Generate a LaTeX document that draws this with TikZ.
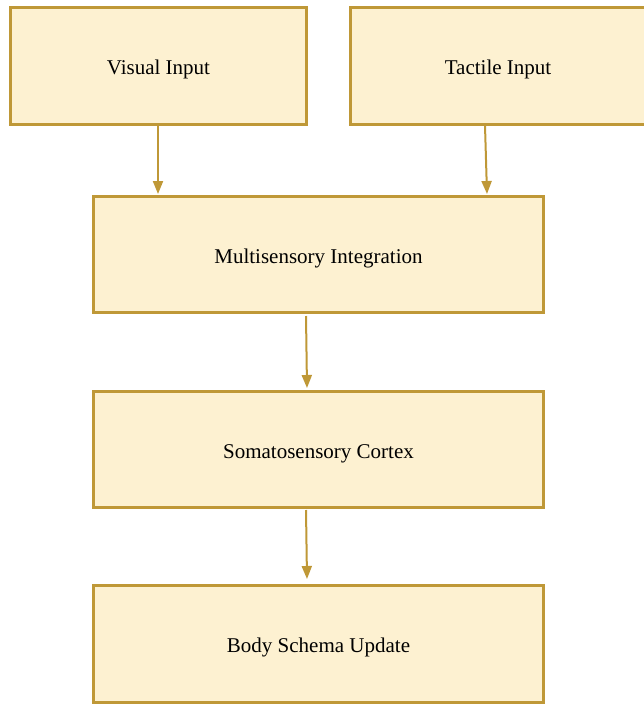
\documentclass[tikz,border=0pt]{standalone}
\usepackage{fontspec}
\setmainfont{Liberation Serif}
\usetikzlibrary{arrows.meta}
\definecolor{boxfill}{HTML}{FDF1D1}
\definecolor{boxline}{HTML}{BF9837}
\tikzset{
  flowbox/.style={draw=boxline, fill=boxfill, line width=3pt, inner sep=0pt,
    font=\fontsize{21}{25}\selectfont, text=black, text height=18pt, text depth=0pt},
  flowarrow/.style={draw=boxline, line width=2pt,
    -{Triangle[length=13pt,width=10pt]}}
}
\begin{document}
\begin{tikzpicture}[x=1pt,y=-1pt]
\useasboundingbox (0,0) rectangle (644,704);
\node[flowbox, minimum width=296pt, minimum height=116.5pt] (vis) at (158.5,65.75) {Visual Input};
\node[flowbox, minimum width=295pt, minimum height=116.5pt] (tac) at (498,65.75) {Tactile Input};
\node[flowbox, minimum width=450pt, minimum height=116pt] (msi) at (318.5,254) {Multisensory Integration};
\node[flowbox, minimum width=450pt, minimum height=116pt] (som) at (318.5,449) {Somatosensory Cortex};
\node[flowbox, minimum width=450pt, minimum height=116.5pt] (bsu) at (318.5,643.75) {Body Schema Update};
\coordinate (a1s) at (158,125.5);
\coordinate (a1e) at (158,194);
\coordinate (a2s) at (485,125.5);
\coordinate (a2e) at (487,194);
\coordinate (a3s) at (306,316);
\coordinate (a3e) at (307,388);
\coordinate (a4s) at (306,510);
\coordinate (a4e) at (307,579);
\draw[flowarrow] (a1s) -- (a1e);
\draw[flowarrow] (a2s) -- (a2e);
\draw[flowarrow] (a3s) -- (a3e);
\draw[flowarrow] (a4s) -- (a4e);
\end{tikzpicture}
\end{document}
